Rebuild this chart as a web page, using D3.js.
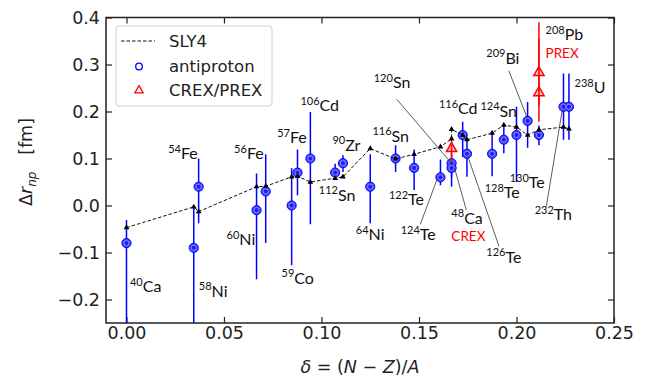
<!DOCTYPE html>
<html>
<head>
<meta charset="utf-8">
<script src="https://cdn.jsdelivr.net/npm/d3@7"></script>
<style>
  html, body { margin: 0; padding: 0; background: #fff; }
  svg { display: block; }
</style>
</head>
<body>
<svg id="chart" width="647" height="381"></svg>
<script>
// ---------------- DATA ----------------
const nuclei = ["40Ca","58Ni","54Fe","60Ni","56Fe","59Co","57Fe","106Cd","112Sn","90Zr","64Ni","116Sn","122Te","124Te","120Sn","48Ca","116Cd","126Te","128Te","124Sn","130Te","209Bi","208Pb","232Th","238U"];
const delta  = [0, 0.0345, 0.037, 0.0667, 0.0714, 0.0847, 0.0877, 0.0943, 0.107, 0.111, 0.125, 0.138, 0.1475, 0.161, 0.1667, 0.1667, 0.1724, 0.1746, 0.1875, 0.1935, 0.2, 0.2057, 0.2115, 0.2241, 0.2269];
const sly4   = [-0.047, -0.003, -0.013, 0.040, 0.041, 0.061, 0.062, 0.050, 0.058, 0.061, 0.121, 0.099, 0.109, 0.125, 0.142, 0.162, 0.150, 0.140, 0.154, 0.171, 0.167, 0.150, 0.161, 0.167, 0.163];
// antiproton values with lower / upper error-bar ends
const apVal  = [-0.08, -0.09, 0.04, -0.01, 0.03, 0.00, 0.07, 0.10, 0.07, 0.09, 0.04, 0.10, 0.08, 0.06, 0.09, 0.08, 0.15, 0.11, 0.11, 0.14, 0.15, 0.18, 0.15, 0.21, 0.21];
const apLo   = [-0.30, -0.30, -0.038, -0.157, -0.08, -0.127, 0.022, -0.04, 0.054, 0.0715, -0.038, 0.0715, 0.033, 0.043, 0.06, 0.04, 0.103, 0.061, 0.062, 0.111, 0.05, 0.123, 0.128, 0.14, 0.14];
const apHi   = [-0.031, 0.0, 0.10, 0.068, 0.109, 0.079, 0.119, 0.199, 0.089, 0.107, 0.109, 0.128, 0.119, 0.098, 0.111, 0.10, 0.178, 0.139, 0.153, 0.171, 0.21, 0.22, 0.17, 0.281, 0.281];
// CREX / PREX
const exName  = ["48Ca (CREX)", "208Pb (PREX)", "208Pb (PREX)"];
const exDelta = [0.1667, 0.2115, 0.2115];
const exVal   = [0.121, 0.283, 0.24];
const exLo    = [0.095, 0.212, 0.178];
const exHi    = [0.147, 0.354, 0.39];
// axis ticks
const xTicks = [0.00, 0.05, 0.10, 0.15, 0.20, 0.25];
const yTicks = [-0.2, -0.1, 0.0, 0.1, 0.2, 0.3, 0.4];
// nuclide annotations: mass, symbol, text anchor (data coords)
const labMass = ["40","58","60","54","56","57","59","106","90","112","64","116","120","122","124","116","124","48","126","128","130","232","209","208","238"];
const labSym  = ["Ca","Ni","Ni","Fe","Fe","Fe","Co","Cd","Zr","Sn","Ni","Sn","Sn","Te","Te","Cd","Sn","Ca","Te","Te","Te","Th","Bi","Pb","U"];
const labX    = [0.0018,0.0371,0.0513,0.0214,0.0552,0.0773,0.0795,0.0892,0.1056,0.0986,0.1176,0.1261,0.1268,0.1346,0.1406,0.1602,0.1815,0.1666,0.1845,0.1837,0.1965,0.2093,0.1845,0.2149,0.2298];
const labY    = [-0.185,-0.1945,-0.0845,0.0985,0.0985,0.132,-0.166,0.201,0.116,0.0098,-0.0738,0.1353,0.249,0.0006,-0.0738,0.194,0.1885,-0.0383,-0.1213,0.0149,0.0362,-0.0313,0.302,0.3517,0.2383];
// red sub-labels
const redText = ["CREX", "PREX"];
const redX    = [0.1666, 0.2149];
const redY    = [-0.076, 0.3128];
// leader lines (data coords)
const leadX1 = [0.1386, 0.1507, 0.1743, 0.191, 0.2153, 0.1961];
const leadY1 = [0.226, -0.0398, -0.01, -0.0866, -0.0015, 0.2864];
const leadX2 = [0.1662, 0.1594, 0.1683, 0.175, 0.2235, 0.2053];
const leadY2 = [0.092, 0.0574, 0.0787, 0.105, 0.204, 0.1885];

// ---------------- CHART ----------------
const svg = d3.select("#chart");
const L = 106, R = 614, T = 17.5, B = 323;
const x = d3.scaleLinear().domain([-0.0105, 0.25]).range([L, R]);
const y = d3.scaleLinear().domain([-0.25, 0.4]).range([B, T]);

svg.append("defs").append("clipPath").attr("id", "clip")
  .append("rect").attr("x", L).attr("y", T).attr("width", R - L).attr("height", B - T);

const tickFont = "DejaVu Sans, sans-serif";
// axes
const gx = svg.append("g").attr("transform", `translate(0,${B})`)
  .call(d3.axisBottom(x).tickValues(xTicks).tickFormat(d3.format(".2f")).tickSizeInner(-6).tickSizeOuter(0).tickPadding(4));
const gxt = svg.append("g").attr("transform", `translate(0,${T})`)
  .call(d3.axisTop(x).tickValues(xTicks).tickFormat("").tickSizeInner(-6).tickSizeOuter(0));
const gy = svg.append("g").attr("transform", `translate(${L},0)`)
  .call(d3.axisLeft(y).tickValues(yTicks).tickFormat(d3.format(".1f")).tickSizeInner(-6).tickSizeOuter(0).tickPadding(6));
const gyr = svg.append("g").attr("transform", `translate(${R},0)`)
  .call(d3.axisRight(y).tickValues(yTicks).tickFormat("").tickSizeInner(-6).tickSizeOuter(0));
[gx, gxt, gy, gyr].forEach(g => {
  g.select(".domain").remove();
  g.selectAll(".tick line").attr("stroke", "#222").attr("stroke-width", 1.2);
  g.selectAll("text").attr("font-family", tickFont).attr("font-size", 17.5).attr("fill", "#222");
});

const plot = svg.append("g").attr("clip-path", "url(#clip)");

// antiproton error bars + markers
const ap = d3.range(delta.length);
plot.selectAll(".apbar").data(ap).enter().append("line")
  .attr("x1", i => x(delta[i])).attr("x2", i => x(delta[i]))
  .attr("y1", i => y(apLo[i])).attr("y2", i => y(apHi[i]))
  .attr("stroke", "#0000ff").attr("stroke-width", 1.5);
plot.selectAll(".apdot").data(ap).enter().append("circle")
  .attr("cx", i => x(delta[i])).attr("cy", i => y(apVal[i])).attr("r", 4.6)
  .attr("fill", "#4545ff").attr("stroke", "#0000ff").attr("stroke-width", 1);
plot.selectAll(".apdot2").data(ap).enter().append("circle")
  .attr("cx", i => x(delta[i])).attr("cy", i => y(apVal[i])).attr("r", 2.6)
  .attr("fill", "#2020ee").attr("stroke", "#9090ff").attr("stroke-width", 0.9);

// CREX/PREX
const ex = d3.range(exDelta.length);
plot.selectAll(".exbar").data(ex).enter().append("line")
  .attr("x1", i => x(exDelta[i])).attr("x2", i => x(exDelta[i]))
  .attr("y1", i => y(exLo[i])).attr("y2", i => y(exHi[i]))
  .attr("stroke", "#ff0000").attr("stroke-width", 1.5);
const tri = d3.symbol().type(d3.symbolTriangle);
plot.selectAll(".extri").data(ex).enter().append("path")
  .attr("d", tri.size(46)())
  .attr("transform", i => `translate(${x(exDelta[i])},${y(exVal[i])})`)
  .attr("fill", "rgba(255,80,80,0.35)").attr("stroke", "#ff0000").attr("stroke-width", 1.5);

// SLY4 dashed line
plot.append("path")
  .attr("d", d3.line().x(i => x(delta[i])).y(i => y(sly4[i]))(ap))
  .attr("fill", "none").attr("stroke", "#111").attr("stroke-width", 1).attr("stroke-dasharray", "3.5,2");
plot.selectAll(".slytri").data(ap).enter().append("path")
  .attr("d", d3.symbol().type(d3.symbolTriangle).size(14)())
  .attr("transform", i => `translate(${x(delta[i])},${y(sly4[i])})`)
  .attr("fill", "#000");

// frame
svg.append("rect").attr("x", L).attr("y", T).attr("width", R - L).attr("height", B - T)
  .attr("fill", "none").attr("stroke", "#222").attr("stroke-width", 1.5);

// leader lines
svg.selectAll(".lead").data(d3.range(leadX1.length)).enter().append("line")
  .attr("x1", i => x(leadX1[i])).attr("y1", i => y(leadY1[i]))
  .attr("x2", i => x(leadX2[i])).attr("y2", i => y(leadY2[i]))
  .attr("stroke", "#333").attr("stroke-width", 0.8);

// nuclide labels
const labFont = "Lato, 'Open Sans', sans-serif";
svg.selectAll(".lab").data(d3.range(labSym.length)).enter().append("text")
  .attr("x", i => x(labX[i])).attr("y", i => y(labY[i]))
  .attr("font-family", labFont).attr("font-size", 16).attr("fill", "#111")
  .each(function(i) {
    const t = d3.select(this);
    t.append("tspan").attr("font-size", 11).attr("dy", -6.5).text(labMass[i]);
    t.append("tspan").attr("dy", 6.5).text(labSym[i]);
  });
svg.selectAll(".red").data(d3.range(redText.length)).enter().append("text")
  .attr("x", i => x(redX[i])).attr("y", i => y(redY[i]))
  .attr("font-family", labFont).attr("font-size", 13.5).attr("fill", "#ff0000")
  .text(i => redText[i]);

// axis labels
svg.append("text").attr("x", 360).attr("y", 373).attr("text-anchor", "middle")
  .attr("font-family", tickFont).attr("font-size", 17.5).attr("fill", "#222")
  .html('<tspan font-style="italic">δ</tspan> = (<tspan font-style="italic">N</tspan> − <tspan font-style="italic">Z</tspan>)/<tspan font-style="italic">A</tspan>');
svg.append("text").attr("transform", "translate(32,162) rotate(-90)").attr("text-anchor", "middle")
  .attr("font-family", tickFont).attr("font-size", 17.5).attr("fill", "#222")
  .html('Δ<tspan font-style="italic">r</tspan><tspan font-style="italic" font-size="12" dy="4">np</tspan><tspan dy="-4">\u00a0\u00a0\u00a0[fm]</tspan>');

// legend
const lg = svg.append("g");
lg.append("rect").attr("x", 116).attr("y", 26).attr("width", 156).attr("height", 80).attr("rx", 3)
  .attr("fill", "rgba(255,255,255,0.85)").attr("stroke", "#d0d0d0").attr("stroke-width", 1);
const legNames = ["SLY4", "antiproton", "CREX/PREX"];
const legY = [41, 66.5, 90.5];
lg.append("line").attr("x1", 121).attr("x2", 155).attr("y1", legY[0]).attr("y2", legY[0])
  .attr("stroke", "#111").attr("stroke-width", 1).attr("stroke-dasharray", "3.5,2");
lg.append("circle").attr("cx", 139).attr("cy", legY[1]).attr("r", 3.3)
  .attr("fill", "none").attr("stroke", "#0000ff").attr("stroke-width", 1.3);
lg.append("path").attr("d", d3.symbol().type(d3.symbolTriangle).size(30)())
  .attr("transform", `translate(139,${legY[2]})`)
  .attr("fill", "none").attr("stroke", "#ff0000").attr("stroke-width", 1.3);
lg.selectAll(".lt").data(legNames).enter().append("text")
  .attr("x", 169).attr("y", (d, i) => legY[i]).attr("dy", "0.36em")
  .attr("font-family", tickFont).attr("font-size", 16.5).attr("fill", "#222")
  .text(d => d);
</script>
</body>
</html>
